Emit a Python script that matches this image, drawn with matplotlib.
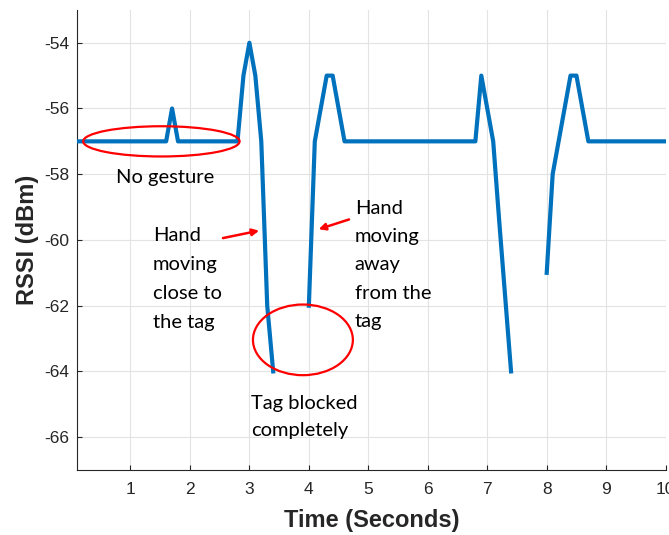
import matplotlib
matplotlib.use("Agg")
import matplotlib.pyplot as plt
from matplotlib.patches import Ellipse
import numpy as np

nan = np.nan

# vertices of the RSSI trace (NaN = gap in the recording)
time_s = [0.1, 1.6, 1.7, 1.8, 2.8, 2.9, 3.0, 3.1, 3.2, 3.3, 3.4, nan,
          4.0, 4.1, 4.3, 4.4, 4.6, 6.8, 6.9, 7.1, 7.2, 7.3, 7.4, nan,
          8.0, 8.1, 8.4, 8.5, 8.7, 10.0]
rssi_dbm = [-57, -57, -56, -57, -57, -55, -54, -55, -57, -62, -64, nan,
            -62, -57, -55, -55, -57, -57, -55, -57, -59.4, -61.7, -64, nan,
            -61, -58, -55, -55, -57, -57]

x_ticks = [1, 2, 3, 4, 5, 6, 7, 8, 9, 10]
y_ticks = [-66, -64, -62, -60, -58, -56, -54]

plt.rcParams['axes.unicode_minus'] = False

note_font = "Lato"
note_size = 14.5
tick_color = "#262626"

fig = plt.figure(figsize=(6.69, 5.35), dpi=100)
ax = fig.add_axes([0.115, 0.1215, 0.880, 0.860])

ax.plot(time_s, rssi_dbm, color="#0072BD", linewidth=3.0, zorder=3)

ax.set_xlim(0.1, 10)
ax.set_ylim(-67, -53)
ax.set_xticks(x_ticks)
ax.set_yticks(y_ticks)
ax.grid(True, color="#e3e3e3", linewidth=0.8)
ax.set_axisbelow(True)
for side in ["top", "right"]:
    ax.spines[side].set_visible(False)
for side in ["left", "bottom"]:
    ax.spines[side].set_color(tick_color)
    ax.spines[side].set_linewidth(0.8)
ax.tick_params(direction="in", length=3.6, colors=tick_color, labelsize=12.5)
ax.tick_params(axis="x", pad=9)
ax.tick_params(axis="y", pad=5.5)
for lab in ax.get_xticklabels() + ax.get_yticklabels():
    lab.set_fontfamily("Liberation Sans")

ax.set_xlabel("Time (Seconds)", fontsize=17, fontweight="bold",
              family="Liberation Sans", color=tick_color, labelpad=8)
ax.set_ylabel("RSSI (dBm)", fontsize=17, fontweight="bold",
              family="Liberation Sans", color=tick_color, labelpad=4)

# annotations
ax.add_patch(Ellipse((1.52, -57.0), 2.63, 0.92, fill=False,
                     edgecolor="red", linewidth=1.6, zorder=4))
ax.add_patch(Ellipse((3.90, -63.04), 1.68, 2.15, fill=False,
                     edgecolor="red", linewidth=1.6, zorder=4))

ax.text(0.75, -58.28, "No gesture", fontsize=note_size, family=note_font,
        va="baseline", ha="left")
ax.text(1.38, -59.6, "Hand\nmoving\nclose to\nthe tag", fontsize=note_size,
        family=note_font, va="top", ha="left", linespacing=1.85)
ax.text(4.77, -58.77, "Hand\nmoving\naway\nfrom the\ntag", fontsize=note_size,
        family=note_font, va="top", ha="left", linespacing=1.82)
ax.text(3.03, -64.71, "Tag blocked\ncompletely", fontsize=note_size,
        family=note_font, va="top", ha="left", linespacing=1.75)

arrow = dict(arrowstyle="-|>", color="red", lw=1.8, mutation_scale=10)
ax.annotate("", xy=(3.21, -59.7), xytext=(2.51, -59.96), arrowprops=arrow)
ax.annotate("", xy=(4.12, -59.7), xytext=(4.72, -59.35), arrowprops=arrow)

fig.savefig("out.png", dpi=100)
